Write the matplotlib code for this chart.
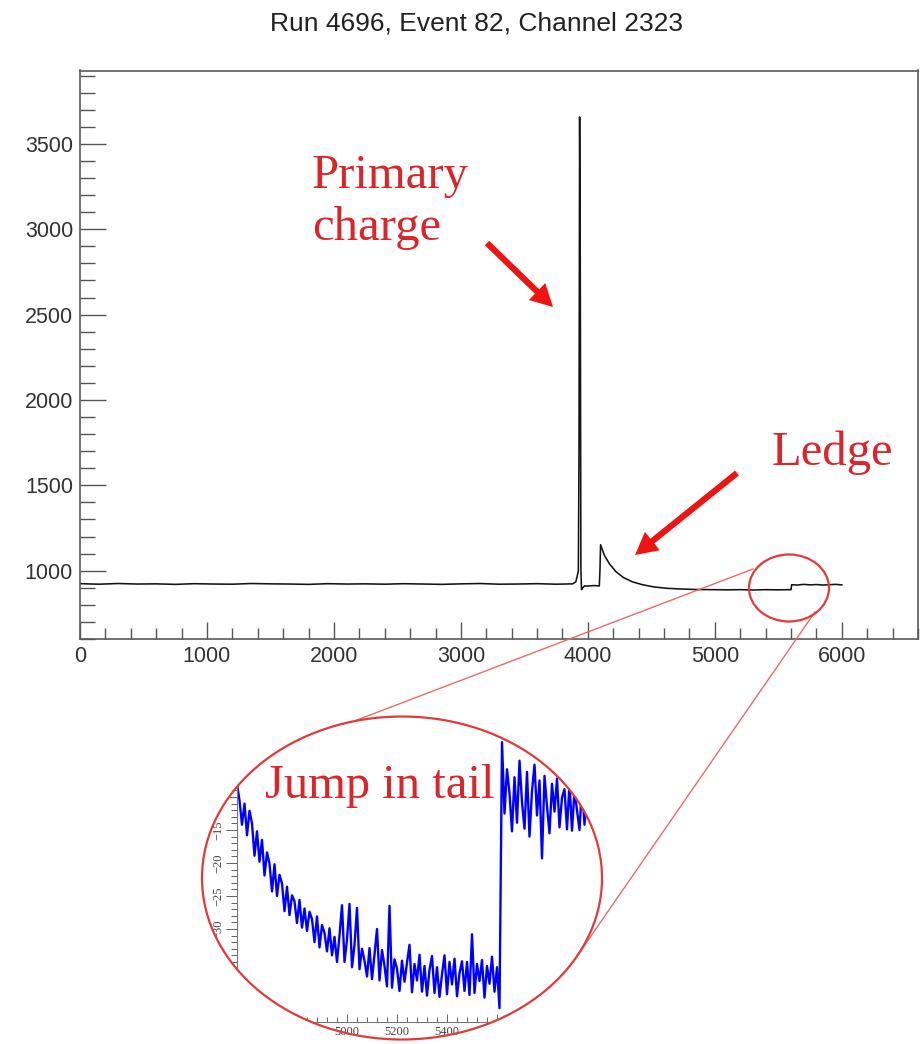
import numpy as np
import matplotlib
matplotlib.use("Agg")
import matplotlib.pyplot as plt
from matplotlib.patches import Ellipse, FancyArrowPatch
from matplotlib.lines import Line2D
from matplotlib.ticker import MultipleLocator

# ---------------- data ----------------
title = "Run 4696, Event 82, Channel 2323"

main_x = [0, 150, 300, 450, 600, 750, 900, 1050, 1200, 1350, 1500, 1650, 1800, 1950,
          2100, 2250, 2400, 2550, 2700, 2850, 3000, 3150, 3300, 3450, 3600, 3750,
          3880, 3905, 3915, 3925, 3930, 3935, 3940, 3945, 3950, 3960, 3975, 3990,
          4050, 4090, 4095, 4100, 4130, 4170, 4220, 4280, 4350, 4430, 4520, 4620,
          4730, 4850, 4980, 5100, 5200, 5300, 5400, 5500, 5600, 5605, 5650, 5700,
          5750, 5800, 5850, 5900, 5950, 6000]
main_y = [924, 921, 925, 922, 923, 920, 924, 922, 921, 925, 923, 922, 920, 924,
          922, 923, 921, 924, 922, 920, 923, 925, 921, 922, 924, 921,
          923, 935, 965, 1000, 1708, 3658, 2815, 1000, 889, 900, 912, 910,
          913, 911, 1000, 1152, 1090, 1040, 995, 960, 935, 918, 905, 897,
          893, 890, 889, 888, 889, 887, 889, 888, 889, 918, 916, 920,
          917, 919, 916, 918, 920, 917]

x_ticks_main = [0, 1000, 2000, 3000, 4000, 5000, 6000]
y_ticks_main = [1000, 1500, 2000, 2500, 3000, 3500]

# zoomed tail (inset), samples every 10 ticks starting at 4520
zoom_start = 4520
zoom_step = 10
zoom_y = [-5.0, -9.8, -7.9, -12.4, -8.1, -10.5, -14.2, -11.0, -15.8, -12.1,
          -14.0, -18.9, -15.2, -19.8, -16.5, -21.9, -18.4, -20.1, -24.3, -20.2,
          -25.0, -21.8, -23.1, -27.3, -23.6, -27.9, -24.9, -25.8, -29.1, -25.6,
          -29.8, -26.9, -30.3, -27.4, -28.5, -32.0, -28.1, -32.8, -29.4, -30.6,
          -33.4, -29.9, -34.0, -31.2, -35.0, -31.0, -26.4, -35.0, -31.6, -26.2,
          -35.8, -32.4, -26.8, -36.1, -33.0, -34.8, -37.2, -32.9, -37.6, -33.9,
          -30.0, -37.8, -33.2, -35.6, -38.7, -26.5, -38.9, -34.6, -36.0, -39.4,
          -34.8, -38.0, -35.1, -32.4, -39.6, -35.3, -37.8, -33.9, -39.5, -35.6,
          -40.1, -36.2, -34.1, -39.7, -35.8, -40.3, -36.9, -34.0, -39.9, -35.0,
          -38.4, -34.5, -40.2, -36.7, -34.9, -39.4, -35.0, -40.0, -30.8, -39.7,
          -35.3, -37.9, -34.7, -40.4, -35.6, -38.3, -34.2, -39.5, -35.8, -42.0,
          -1.7, -12.5, -5.8, -9.4, -15.2, -7.0, -13.9, -4.5, -10.8, -14.8,
          -6.2, -16.0, -9.1, -5.1, -12.8, -7.5, -19.3, -6.8, -11.4, -15.5,
          -8.0, -12.2, -7.2, -14.6, -10.1, -8.8, -14.9, -7.9, -15.1, -9.0,
          -12.0, -15.0, -8.3, -14.2, -9.5]
zoom_x = zoom_start + zoom_step * np.arange(len(zoom_y))

# ---------------- figure ----------------
W, H = 923, 1044
fig = plt.figure(figsize=(W / 100, H / 100), dpi=100)
fig.patch.set_facecolor("white")


def fx(px):
    return px / W


def fy(py):
    return 1 - py / H


sans = ["Liberation Sans", "DejaVu Sans"]
serif = ["Liberation Serif", "DejaVu Serif"]
red_txt = "#d8262b"
red_arrow = "#ee1414"
red_line = "#e23a3a"

# main axes
ax = fig.add_axes([fx(80), fy(639), (918 - 80) / W, (639 - 70.5) / H])
ax.plot(main_x, main_y, color="#141414", lw=1.15)
ax.set_xlim(0, 6600)
ax.set_ylim(600, 3930)
ax.set_xticks(x_ticks_main)
ax.set_yticks(y_ticks_main)
ax.xaxis.set_minor_locator(MultipleLocator(200))
ax.yaxis.set_minor_locator(MultipleLocator(100))
ax.tick_params(axis="both", which="both", direction="in", top=False, right=False,
               color="#555555", width=1.0, labelcolor="#333333", labelsize=15.5)
ax.tick_params(axis="y", which="major", length=18.7, pad=5)
ax.tick_params(axis="y", which="minor", length=10.8)
ax.tick_params(axis="x", which="major", length=12.2, pad=5)
ax.tick_params(axis="x", which="minor", length=7.9)
for lab in ax.get_xticklabels() + ax.get_yticklabels():
    lab.set_family(sans)
for sp in ax.spines.values():
    sp.set_color("#5a5a5a")
    sp.set_linewidth(1.2)

fig.text(fx(476), fy(23), title, ha="center", va="center", fontsize=19,
         family=sans, color="#222222")

# annotations
fig.text(fx(312), fy(188), "Primary", fontsize=35, family=serif, color=red_txt,
         va="baseline", ha="left")
fig.text(fx(312), fy(240), "charge", fontsize=35, family=serif, color=red_txt,
         va="baseline", ha="left")
fig.text(fx(772), fy(465), "Ledge", fontsize=35, family=serif, color=red_txt,
         va="baseline", ha="left")

style = "simple,head_width=1.7,head_length=1.6,tail_width=0.45"
for (x0, y0), (x1, y1) in [((487, 243), (553, 307)), ((737, 473), (635, 555))]:
    fig.add_artist(FancyArrowPatch((fx(x0), fy(y0)), (fx(x1), fy(y1)),
                                   transform=fig.transFigure, arrowstyle=style,
                                   mutation_scale=10, color=red_arrow,
                                   shrinkA=0, shrinkB=0, lw=0))

# small ellipse on main plot
fig.add_artist(Ellipse((fx(789), fy(588)), 80 / W, 67 / H, transform=fig.transFigure,
                       fill=False, ec=red_line, lw=1.6, zorder=5))
# connecting lines
fig.add_artist(Line2D([fx(753), fx(357)], [fy(569), fy(720)], transform=fig.transFigure,
                      color="#e86a6a", lw=1.0))
fig.add_artist(Line2D([fx(815), fx(573)], [fy(612), fy(962)], transform=fig.transFigure,
                      color="#e86a6a", lw=1.0))

# inset
big_c = (fx(402), fy(878))
big_w, big_h = 400 / W, 323 / H
clip_ell = Ellipse(big_c, big_w, big_h, transform=fig.transFigure)

ax2 = fig.add_axes([fx(237), fy(1022), (620 - 237) / W, (1022 - 700) / H])
ax2.patch.set_visible(False)
ax2.plot(zoom_x, zoom_y, color="#0000ff", lw=1.7)
ax2.set_xlim(4560, 6092)
ax2.set_ylim(-44.1, 4.7)
ax2.xaxis.set_major_locator(MultipleLocator(200))
ax2.xaxis.set_minor_locator(MultipleLocator(40))
ax2.yaxis.set_major_locator(MultipleLocator(5))
ax2.yaxis.set_minor_locator(MultipleLocator(1))
ax2.spines["top"].set_visible(False)
ax2.spines["right"].set_visible(False)
for s in ("left", "bottom"):
    ax2.spines[s].set_color("#777777")
    ax2.spines[s].set_linewidth(0.8)
ax2.tick_params(axis="both", which="both", color="#666666", width=0.7,
                labelcolor="#444444", labelsize=9)
ax2.tick_params(axis="x", which="major", direction="in", length=6, pad=3)
ax2.tick_params(axis="x", which="minor", direction="in", length=3.5)
ax2.tick_params(axis="y", which="major", direction="out", length=8, pad=1)
ax2.tick_params(axis="y", which="minor", direction="out", length=4.5)
for lab in ax2.get_yticklabels():
    lab.set_rotation(90)
    lab.set_va("center")
for lab in ax2.get_xticklabels() + ax2.get_yticklabels():
    lab.set_family(serif)

fig.canvas.draw()
fig.add_artist(clip_ell)
clip_ell.set_visible(False)
for art in ax2.lines:
    art.set_clip_path(clip_ell)
for s in ("left", "bottom"):
    ax2.spines[s].set_clip_path(clip_ell)
renderer = fig.canvas.get_renderer()
ell_path = clip_ell.get_transform().transform_path(clip_ell.get_path())
for axis in (ax2.xaxis, ax2.yaxis):
    for t in axis.get_major_ticks() + axis.get_minor_ticks():
        t.tick1line.set_clip_path(clip_ell)
        t.tick2line.set_clip_path(clip_ell)
        bb = t.label1.get_window_extent(renderer)
        cx, cy = (bb.x0 + bb.x1) / 2, (bb.y0 + bb.y1) / 2
        if not ell_path.contains_point((cx, cy)):
            t.label1.set_visible(False)

fig.text(fx(265), fy(798), "Jump in tail", fontsize=35, family=serif, color=red_txt,
         va="baseline", ha="left", zorder=6)
fig.add_artist(Ellipse(big_c, big_w, big_h, transform=fig.transFigure,
                       fill=False, ec=red_line, lw=1.6, zorder=5))

fig.savefig("out.png", dpi=100, facecolor="white")
